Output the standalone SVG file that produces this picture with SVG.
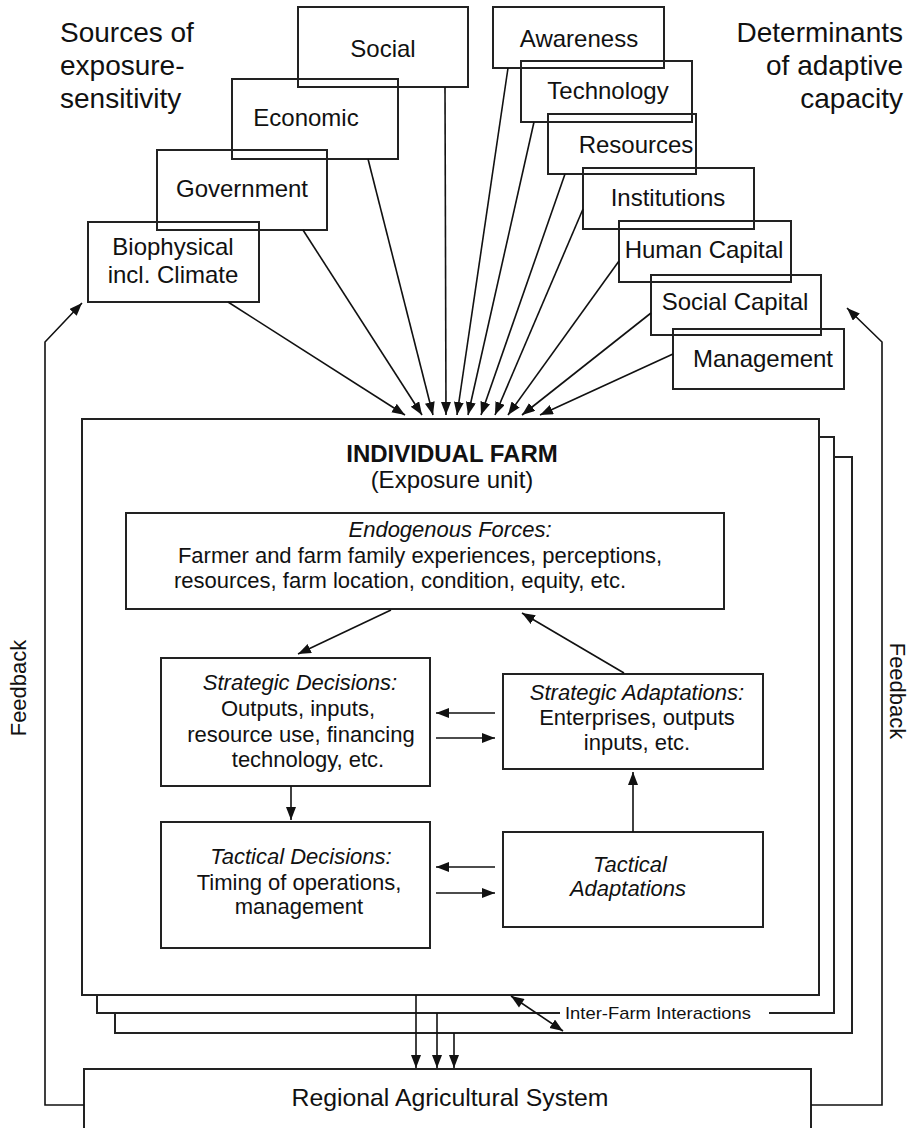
<svg xmlns="http://www.w3.org/2000/svg" width="911" height="1128" viewBox="0 0 911 1128">
<style>
text{font-family:"Liberation Sans",Arial,sans-serif;fill:#111}
.lbl{font-size:24px;text-anchor:middle}
.hdr{font-size:28px}
.in{font-size:22px;text-anchor:middle}
.it{font-style:italic}
.box{fill:none;stroke:#222;stroke-width:2}
.wbox{fill:#fff;stroke:#222;stroke-width:2}
.ln{fill:none;stroke:#111;stroke-width:1.6}
.ar{fill:none;stroke:#111;stroke-width:1.6;marker-end:url(#ah)}
</style>
<defs>
<marker id="ah" markerUnits="userSpaceOnUse" markerWidth="14" markerHeight="11" refX="13" refY="5" orient="auto">
<path d="M0,0 L13,5 L0,10 z" fill="#111"/>
</marker>
<marker id="ahs" markerUnits="userSpaceOnUse" markerWidth="14" markerHeight="11" refX="0" refY="5" orient="auto">
<path d="M13,0 L0,5 L13,10 z" fill="#111"/>
</marker>
</defs>
<rect width="911" height="1128" fill="#fff"/>

<g id="header-left">
<text class="hdr" x="60" y="42">Sources of</text>
<text class="hdr" x="60" y="75">exposure-</text>
<text class="hdr" x="60" y="108">sensitivity</text>
</g>
<g id="header-right">
<text class="hdr" x="903" y="42" text-anchor="end">Determinants</text>
<text class="hdr" x="903" y="75" text-anchor="end">of adaptive</text>
<text class="hdr" x="903" y="108" text-anchor="end">capacity</text>
</g>

<g id="social"><rect class="box" x="298" y="7" width="170" height="80"/><text class="lbl" x="383" y="57">Social</text></g>
<g id="economic"><rect class="box" x="232" y="79" width="166" height="80"/><text class="lbl" x="306" y="126">Economic</text></g>
<g id="government"><rect class="box" x="157" y="150" width="170" height="80"/><text class="lbl" x="242" y="197">Government</text></g>
<g id="biophysical"><rect class="box" x="88" y="222" width="171" height="80"/><text class="lbl" x="173" y="255">Biophysical</text><text class="lbl" x="173" y="283">incl. Climate</text></g>

<g id="awareness"><rect class="box" x="493" y="7" width="171" height="61"/><text class="lbl" x="579" y="47">Awareness</text></g>
<g id="technology"><rect class="box" x="521" y="61" width="171" height="61"/><text class="lbl" x="608" y="99">Technology</text></g>
<g id="resources"><rect class="box" x="548" y="114" width="148" height="60"/><text class="lbl" x="636" y="153">Resources</text></g>
<g id="institutions"><rect class="box" x="583" y="168" width="171" height="61"/><text class="lbl" x="668" y="206">Institutions</text></g>
<g id="human-capital"><rect class="box" x="619" y="221" width="172" height="61"/><text class="lbl" x="704" y="258">Human Capital</text></g>
<g id="social-capital"><rect class="box" x="651" y="275" width="170" height="60"/><text class="lbl" x="735" y="310">Social Capital</text></g>
<g id="management"><rect class="box" x="673" y="329" width="171" height="60"/><text class="lbl" x="763" y="367">Management</text></g>

<g id="farm-stack">
<rect class="wbox" x="115" y="457" width="737" height="576"/>
<rect class="wbox" x="97" y="437" width="737" height="576"/>
<rect class="wbox" x="82" y="419" width="737" height="576"/>
</g>

<g id="individual-farm">
<text x="452" y="462" font-size="24" font-weight="bold" text-anchor="middle">INDIVIDUAL FARM</text>
<text x="452" y="488" font-size="24" text-anchor="middle">(Exposure unit)</text>
</g>

<g id="endogenous">
<rect class="box" x="126" y="513" width="598" height="96"/>
<text class="in it" x="450" y="537">Endogenous Forces:</text>
<text class="in" x="420" y="563">Farmer and farm family experiences, perceptions,</text>
<text class="in" x="400" y="588">resources, farm location, condition, equity, etc.</text>
</g>

<g id="strategic-decisions">
<rect class="box" x="161" y="658" width="269" height="128"/>
<text class="in it" x="300" y="690">Strategic Decisions:</text>
<text class="in" x="298" y="716">Outputs, inputs,</text>
<text class="in" x="301" y="742">resource use, financing</text>
<text class="in" x="308" y="767">technology, etc.</text>
</g>

<g id="strategic-adaptations">
<rect class="box" x="503" y="674" width="260" height="95"/>
<text class="in it" x="637" y="700">Strategic Adaptations:</text>
<text class="in" x="637" y="725">Enterprises, outputs</text>
<text class="in" x="637" y="750">inputs, etc.</text>
</g>

<g id="tactical-decisions">
<rect class="box" x="161" y="822" width="269" height="126"/>
<text class="in it" x="301" y="864">Tactical Decisions:</text>
<text class="in" x="299" y="890">Timing of operations,</text>
<text class="in" x="299" y="914">management</text>
</g>

<g id="tactical-adaptations">
<rect class="box" x="503" y="832" width="260" height="95"/>
<text class="in it" x="630" y="872">Tactical</text>
<text class="in it" x="628" y="896">Adaptations</text>
</g>

<g id="inter-farm">
<rect x="560" y="1004" width="209" height="19" fill="#fff"/>
<text x="565" y="1019" font-size="17" textLength="186" lengthAdjust="spacingAndGlyphs">Inter-Farm Interactions</text>
</g>

<g id="regional">
<rect class="box" x="84" y="1069" width="727" height="60"/>
<text x="450" y="1106" font-size="24.8" text-anchor="middle">Regional Agricultural System</text>
</g>

<g id="feedback-labels">
<text x="26" y="688" font-size="22" text-anchor="middle" transform="rotate(-90 26 688)">Feedback</text>
<text x="890" y="691" font-size="22" text-anchor="middle" transform="rotate(90 890 691)">Feedback</text>
</g>

<g id="connectors">
<line class="ar" x1="228" y1="302" x2="405" y2="415"/>
<line class="ar" x1="303" y1="230" x2="422" y2="415"/>
<line class="ar" x1="368" y1="159" x2="433" y2="415"/>
<line class="ar" x1="445" y1="87" x2="446" y2="415"/>
<line class="ar" x1="508" y1="68" x2="457" y2="415"/>
<line class="ar" x1="534" y1="122" x2="468" y2="415"/>
<line class="ar" x1="565" y1="174" x2="481" y2="415"/>
<line class="ar" x1="583" y1="209" x2="495" y2="415"/>
<line class="ar" x1="619" y1="261" x2="508" y2="415"/>
<line class="ar" x1="651" y1="313" x2="522" y2="415"/>
<line class="ar" x1="673" y1="354" x2="540" y2="415"/>

<line class="ar" x1="391" y1="610" x2="298" y2="654"/>
<line class="ar" x1="624" y1="673" x2="522" y2="613"/>
<line class="ar" x1="495" y1="713" x2="436" y2="713"/>
<line class="ar" x1="436" y1="738" x2="495" y2="738"/>
<line class="ar" x1="291" y1="786" x2="291" y2="820"/>
<line class="ar" x1="495" y1="867" x2="436" y2="867"/>
<line class="ar" x1="436" y1="893" x2="495" y2="893"/>
<line class="ar" x1="633" y1="832" x2="633" y2="772"/>

<line class="ar" x1="511" y1="996" x2="563" y2="1031" marker-start="url(#ahs)"/>

<line class="ar" x1="416" y1="995" x2="416" y2="1068"/>
<line class="ar" x1="437" y1="1013" x2="437" y2="1068"/>
<line class="ar" x1="454" y1="1033" x2="454" y2="1068"/>

<polyline class="ar" points="84,1105 45,1105 45,342 82,303"/>
<polyline class="ar" points="811,1105 882,1105 882,342 847,308"/>
</g>
</svg>
